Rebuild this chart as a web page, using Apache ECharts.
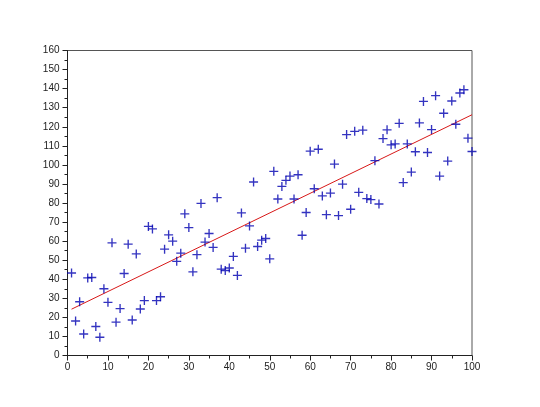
<!DOCTYPE html>
<html>
<head>
<meta charset="utf-8">
<script src="https://cdn.jsdelivr.net/npm/echarts@6/dist/echarts.min.js"></script>
<style>
  html, body { margin: 0; padding: 0; background: #fff; }
  #chart { width: 540px; height: 407px; }
</style>
</head>
<body>
<div id="chart"></div>
<script>
const xValues = [
  1, 2, 3, 4, 5, 6, 7, 8, 9, 10, 11, 12, 13, 14, 15, 16, 17, 18, 19, 20,
  21, 22, 23, 24, 25, 26, 27, 28, 29, 30, 31, 32, 33, 34, 35, 36, 37, 38, 39, 40,
  41, 42, 43, 44, 45, 46, 47, 48, 49, 50, 51, 52, 53, 54, 55, 56, 57, 58, 59, 60,
  61, 62, 63, 64, 65, 66, 67, 68, 69, 70, 71, 72, 73, 74, 75, 76, 77, 78, 79, 80,
  81, 82, 83, 84, 85, 86, 87, 88, 89, 90, 91, 92, 93, 94, 95, 96, 97, 98, 99, 100
]
const yValues = [
  43.3, 18.1, 28.2, 11.3, 40.7, 40.9, 15.2, 9.6, 35, 27.9,
  59.1, 17.5, 24.6, 43.0, 58.4, 18.6, 53.3, 24.4, 28.8, 67.7,
  66.4, 28.8, 30.8, 55.8, 63.3, 60, 49.4, 53.7, 74.3, 67.1,
  43.9, 52.9, 79.8, 59.5, 64, 56.7, 82.8, 45.3, 44.6, 45.9,
  52, 42, 74.8, 56.3, 68, 91, 57.2, 60.5, 61.4, 50.7,
  96.6, 82.1, 88.7, 91.9, 94.1, 82.1, 94.8, 63.1, 75, 107.2,
  87.5, 108.2, 83.7, 73.9, 85.2, 100.4, 73.4, 89.9, 115.9, 76.7,
  117.6, 85.6, 118.2, 82.3, 81.8, 102.2, 79.5, 113.8, 118.4, 110.5,
  111, 121.8, 90.7, 111, 96.2, 106.9, 122, 133.3, 106.5, 118.5,
  136.3, 94.1, 127.1, 102, 133.5, 121.3, 137.7, 139.4, 114, 107
]
// fitted line end points
const fitX = [1, 100]
const fitY = [24.3, 126.3]

const points = xValues.map((x, i) => [x, yValues[i]])
const fitLine = fitX.map((x, i) => [x, fitY[i]])

const axisColor = '#222222'
const labelStyle = { color: '#222222', fontSize: 10, fontFamily: 'Liberation Sans' }

const chart = echarts.init(document.getElementById('chart'), null, { renderer: 'canvas' })
chart.setOption({
  backgroundColor: '#ffffff',
  animation: false,
  grid: {
    left: 67.5, right: 68, top: 50.5, bottom: 51.5,
    show: true, borderColor: '#555555', borderWidth: 1, backgroundColor: 'transparent'
  },
  xAxis: {
    type: 'value',
    min: 0, max: 100, interval: 10,
    axisLine: { lineStyle: { color: axisColor, width: 1 } },
    axisTick: { show: true, inside: false, length: 5, lineStyle: { color: axisColor } },
    minorTick: { show: true, splitNumber: 2, length: 3, lineStyle: { color: axisColor } },
    splitLine: { show: false },
    axisLabel: { ...labelStyle, margin: 7 },
  },
  yAxis: {
    type: 'value',
    min: 0, max: 160, interval: 10,
    axisLine: { show: true, lineStyle: { color: axisColor, width: 1 } },
    axisTick: { show: true, inside: false, length: 5, lineStyle: { color: axisColor } },
    minorTick: { show: true, splitNumber: 2, length: 3, lineStyle: { color: axisColor } },
    splitLine: { show: false },
    axisLabel: { ...labelStyle, margin: 8 },
  },
  series: [
    {
      type: 'line',
      data: fitLine,
      symbol: 'none',
      lineStyle: { color: '#d81818', width: 1 },
      z: 2,
    },
    {
      type: 'scatter',
      data: points,
      symbol: 'path://M0,4.25H10V5.75H0Z M4.25,0H5.75V10H4.25Z',
      symbolSize: 9,
      itemStyle: { color: '#0000b0' },
      z: 3,
    },
  ],
})
</script>
</body>
</html>
